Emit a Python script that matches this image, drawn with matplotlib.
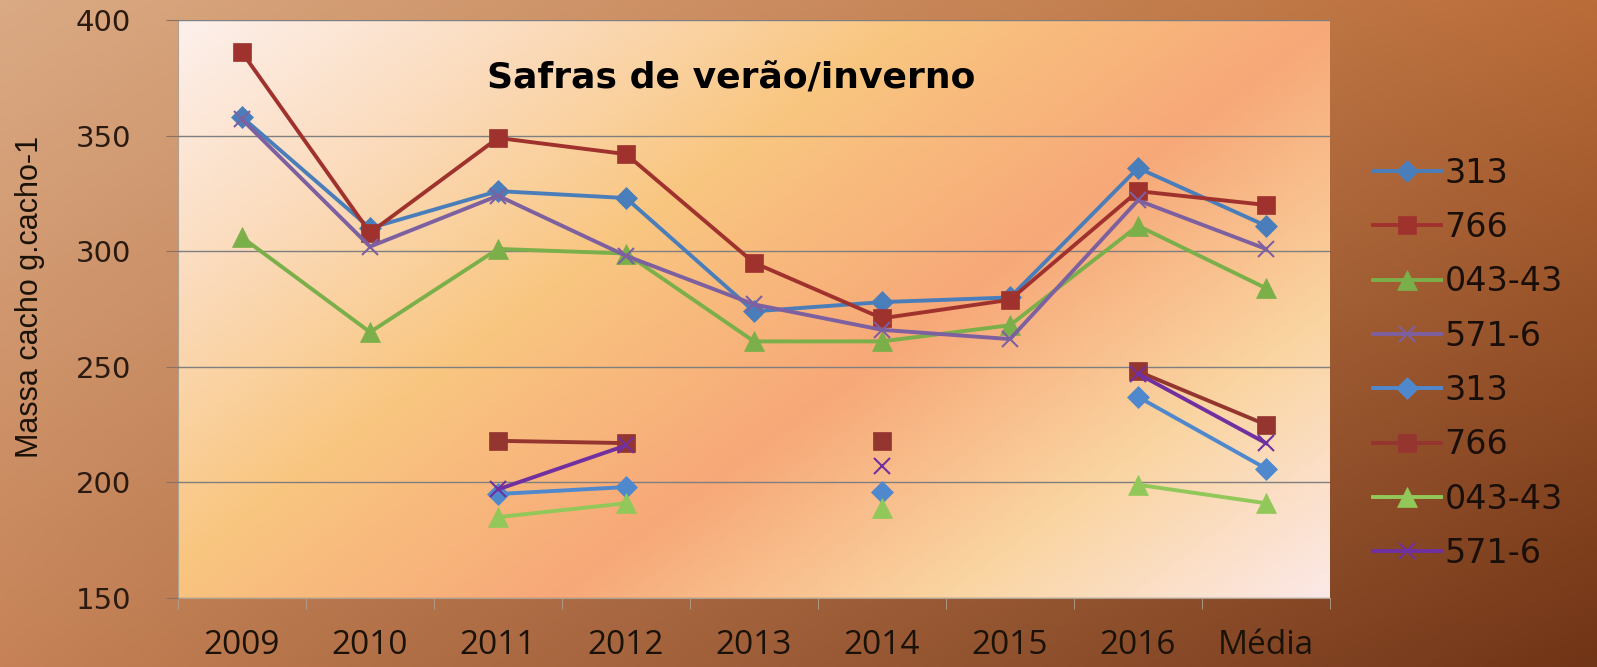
import numpy as np
import matplotlib
matplotlib.use("Agg")
import matplotlib.pyplot as plt
from matplotlib.colors import LinearSegmentedColormap

nan = np.nan

# categorias do eixo x
categorias = ['2009', '2010', '2011', '2012', '2013', '2014', '2015', '2016', 'Média']

# safras de verão
verao_313 = [358, 310, 326, 323, 274, 278, 280, 336, 311]
verao_766 = [386, 308, 349, 342, 295, 271, 279, 326, 320]
verao_043 = [306, 265, 301, 299, 261, 261, 268, 311, 284]
verao_571 = [357, 302, 324, 298, 277, 266, 262, 322, 301]

# safras de inverno
inverno_313 = [nan, nan, 195, 198, nan, 196, nan, 237, 206]
inverno_766 = [nan, nan, 218, 217, nan, 218, nan, 248, 225]
inverno_043 = [nan, nan, 185, 191, nan, 189, nan, 199, 191]
inverno_571 = [nan, nan, 197, 216, nan, 207, nan, 247, 217]

fig = plt.figure(figsize=(15.97, 6.67), dpi=100)

# fundo da figura (gradiente marrom)
bg = fig.add_axes([0, 0, 1, 1], zorder=-10)
h, w = 200, 400
yy, xx = np.mgrid[0:1:h * 1j, 0:1:w * 1j]
tl = np.array([218, 170, 132]) / 255
tr = np.array([186, 108, 56]) / 255
bl = np.array([198, 130, 86]) / 255
br = np.array([112, 52, 22]) / 255
img = ((1 - xx)[..., None] * (1 - yy)[..., None] * tl + xx[..., None] * (1 - yy)[..., None] * tr
       + (1 - xx)[..., None] * yy[..., None] * bl + xx[..., None] * yy[..., None] * br)
bg.imshow(img, aspect='auto', extent=[0, 1, 0, 1])
bg.axis('off')

ax = fig.add_axes([0.1115, 0.1034, 0.7213, 0.8666])
ax.set_facecolor('none')

# gradiente da área do gráfico
stops = [(0.0, (253, 240, 236)), (0.2, (251, 218, 185)), (0.38, (249, 198, 128)),
         (0.6, (247, 168, 120)), (0.8, (250, 212, 160)), (1.0, (252, 232, 230))]
cmap = LinearSegmentedColormap.from_list('area', [(p, np.array(c) / 255) for p, c in stops])
yy2, xx2 = np.mgrid[0:1:200j, 0:1:400j]
u = (0.9 * xx2 + 0.61 * yy2) / 1.51
ax.imshow(u, cmap=cmap, vmin=0, vmax=1, aspect='auto', extent=[0, 1, 0, 1],
          transform=ax.transAxes, zorder=0, interpolation='bilinear')

x = np.arange(len(categorias))

series = [
    ('313', verao_313, '#4a7ebb', 'D', 11),
    ('766', verao_766, '#a0322e', 's', 13),
    ('043-43', verao_043, '#7aaf49', '^', 14),
    ('571-6', verao_571, '#7d60a0', 'x', 11),
    ('313', inverno_313, '#4f88cc', 'D', 11),
    ('766', inverno_766, '#953530', 's', 13),
    ('043-43', inverno_043, '#92c85a', '^', 14),
    ('571-6', inverno_571, '#7030a0', 'x', 11),
]
for nome, vals, cor, mk, ms in series:
    ax.plot(x, vals, color=cor, lw=2.8, marker=mk, markersize=ms,
            markeredgewidth=1.5 if mk == 'x' else 0.5, markeredgecolor=cor,
            label=nome, zorder=3)

ax.set_xlim(-0.5, len(categorias) - 0.5)
ax.set_ylim(150, 400)
ax.set_yticks([150, 200, 250, 300, 350, 400])
ax.yaxis.grid(True, color='#7f7f7f', lw=1)
ax.set_axisbelow(False)
for gl in ax.get_ygridlines():
    gl.set_zorder(1)

ax.set_xticks(x)
ax.set_xticklabels(categorias, fontsize=24, family=['Open Sans', 'DejaVu Sans'], color='#1a1208')
ax.set_xticks(np.arange(-0.5, len(categorias)), minor=True)
ax.tick_params(axis='x', which='major', length=0, pad=22)
ax.tick_params(axis='x', which='minor', length=8, color='#b0a090', direction='out')
ax.tick_params(axis='y', length=9, color='#8a7060', direction='out', pad=25,
               labelsize=21, labelcolor='#2a1a10')

for s in ['top', 'right']:
    ax.spines[s].set_visible(False)
ax.spines['left'].set_color('#b0a090')
ax.spines['bottom'].set_color('#b0a090')

ax.text(0.48, 0.898, 'Safras de verão/inverno', transform=ax.transAxes,
        fontsize=26, fontweight='bold', family=['DejaVu Sans'],
        ha='center', va='center', color='black', zorder=5)

fig.text(0.019, 0.555, 'Massa cacho g.cacho-1', rotation=90, ha='center', va='center',
         fontsize=22, family=['Liberation Sans', 'DejaVu Sans'], color='#1a1208')

leg = fig.legend(loc='upper left', bbox_to_anchor=(0.841, 0.81), frameon=False,
                 fontsize=24, labelspacing=0.64, handlelength=2.05, handletextpad=0.1,
                 numpoints=1, labelcolor='#1a0f08')

fig.savefig('out.png', dpi=100)
